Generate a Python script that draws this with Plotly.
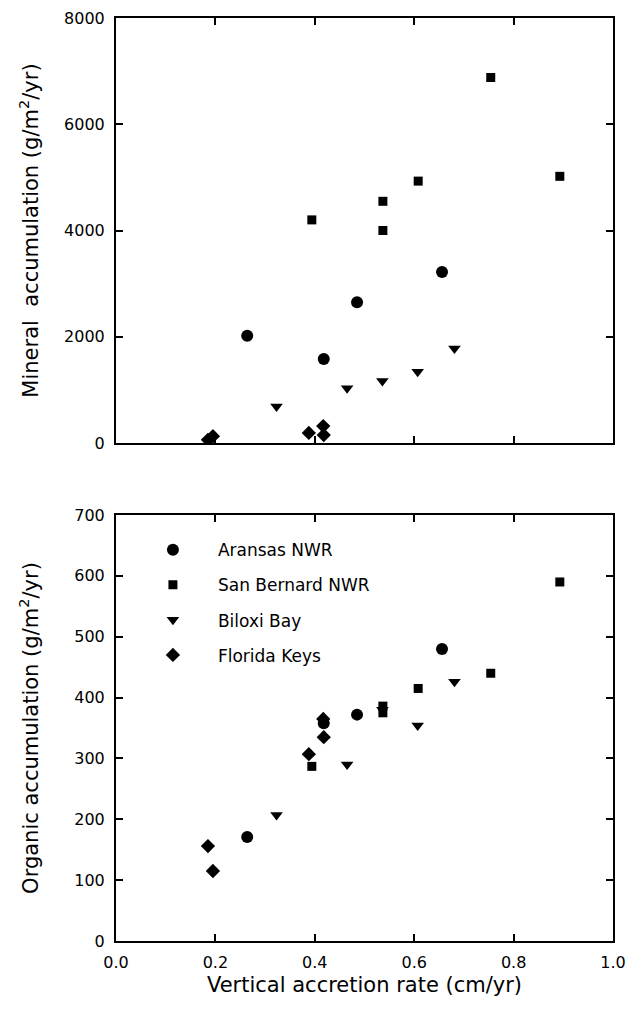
import plotly.graph_objects as go

# ---- data ----
sites = ["Aransas NWR", "San Bernard NWR", "Biloxi Bay", "Florida Keys"]
symbols = ["circle", "square", "triangle-down", "diamond"]
sizes = [12, 9, 11, 11]

aransas_rate = [0.264, 0.418, 0.485, 0.656]
aransas_mineral = [2020, 1580, 2650, 3220]
aransas_organic = [171, 358, 372, 480]

sanbernard_rate = [0.394, 0.537, 0.537, 0.608, 0.754, 0.893]
sanbernard_mineral = [4200, 4550, 4000, 4930, 6880, 5020]
sanbernard_organic = [287, 386, 375, 415, 440, 590]

biloxi_rate = [0.323, 0.465, 0.536, 0.607, 0.681]
biloxi_mineral = [690, 1030, 1170, 1340, 1780]
biloxi_organic = [207, 290, 380, 354, 426]

florida_rate = [0.185, 0.195, 0.388, 0.417, 0.418]
florida_mineral = [60, 130, 190, 320, 150]
florida_organic = [156, 115, 307, 365, 335]

x_ticks = [0.0, 0.2, 0.4, 0.6, 0.8, 1.0]
x_ticklabels = ["0.0", "0.2", "0.4", "0.6", "0.8", "1.0"]
top_yticks = [0, 2000, 4000, 6000, 8000]
bottom_yticks = [0, 100, 200, 300, 400, 500, 600, 700]

rates = [aransas_rate, sanbernard_rate, biloxi_rate, florida_rate]
minerals = [aransas_mineral, sanbernard_mineral, biloxi_mineral, florida_mineral]
organics = [aransas_organic, sanbernard_organic, biloxi_organic, florida_organic]

FONT = "DejaVu Sans, Verdana, sans-serif"

fig = go.Figure()
for i, name in enumerate(sites):
    fig.add_trace(go.Scatter(
        x=rates[i], y=minerals[i], mode="markers", name=name,
        marker=dict(symbol=symbols[i], size=sizes[i], color="black"),
        xaxis="x", yaxis="y", showlegend=False, legendgroup=name))
    fig.add_trace(go.Scatter(
        x=rates[i], y=organics[i], mode="markers", name=name,
        marker=dict(symbol=symbols[i], size=sizes[i], color="black"),
        xaxis="x2", yaxis="y2", showlegend=True, legendgroup=name))

axis_common = dict(showline=True, linewidth=2, linecolor="black", mirror="ticks",
                   ticks="inside", ticklen=7, tickwidth=2, tickcolor="black",
                   showgrid=False, zeroline=False,
                   tickfont=dict(family=FONT, size=16, color="black"))

title_font = dict(family=FONT, size=21, color="black")

fig.update_layout(
    width=629, height=1013,
    margin=dict(l=116, r=16, t=18, b=72, autoexpand=False),
    paper_bgcolor="white", plot_bgcolor="white",
    font=dict(family=FONT, color="black"),
    xaxis=dict(domain=[0, 1], range=[0, 1], tickvals=x_ticks, showticklabels=False,
               anchor="y", **axis_common),
    yaxis=dict(domain=[0.5395, 1.0], range=[0, 8000], tickvals=top_yticks,
               anchor="x", ticklabelstandoff=6,
               title=dict(text="Mineral  accumulation (g/m<sup>2</sup>/yr)",
                          font=title_font, standoff=20),
               **axis_common),
    xaxis2=dict(domain=[0, 1], range=[0, 1], tickvals=x_ticks, ticktext=x_ticklabels,
                anchor="y2", ticklabelstandoff=6,
                title=dict(text="Vertical accretion rate (cm/yr)",
                           font=title_font, standoff=6),
                **axis_common),
    yaxis2=dict(domain=[0.0, 0.4615], range=[0, 700], tickvals=bottom_yticks,
                anchor="x2", ticklabelstandoff=6,
                title=dict(text="Organic accumulation (g/m<sup>2</sup>/yr)",
                           font=title_font, standoff=30),
                **axis_common),
    legend=dict(x=0.024, y=0.443, xanchor="left", yanchor="top",
                bgcolor="rgba(0,0,0,0)", traceorder="grouped", tracegroupgap=10,
                itemwidth=80,
                font=dict(family=FONT, size=17, color="black")),
)

fig.write_html("out.html")
